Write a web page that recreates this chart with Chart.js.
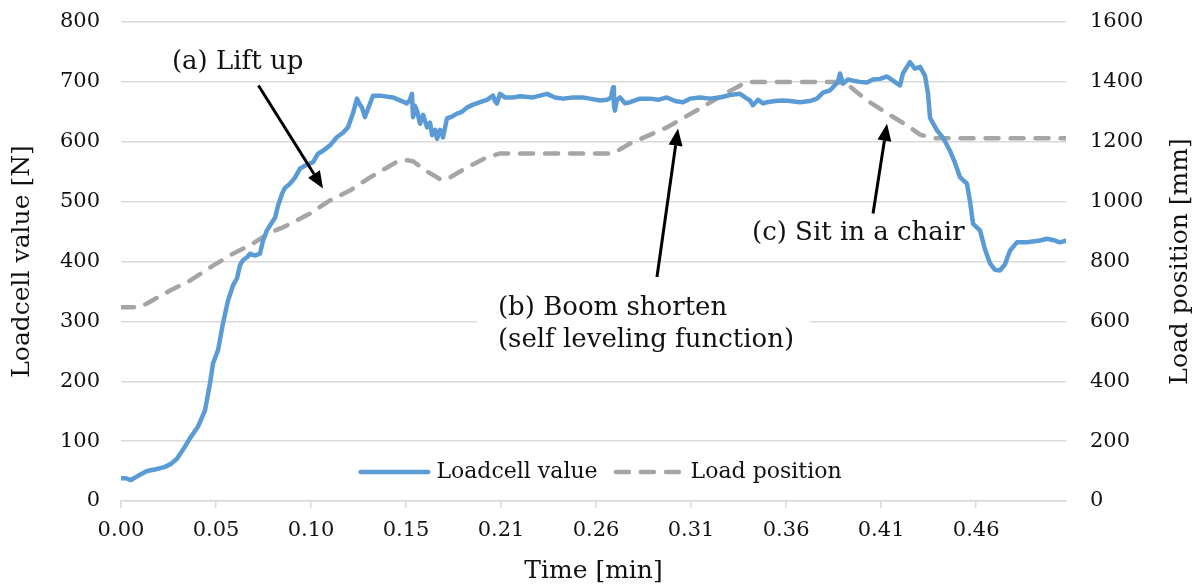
<!DOCTYPE html>
<html>
<head>
<meta charset="utf-8">
<script src="https://cdn.jsdelivr.net/npm/chart.js@4.4.1/dist/chart.umd.min.js"></script>
<style>
  html, body { margin: 0; padding: 0; background: #ffffff; }
  #wrap { width: 1200px; height: 585px; }
</style>
</head>
<body>
<div id="wrap"><canvas id="chart" width="1200" height="585"></canvas></div>
<script>
// Time axis [min]: tick positions and their printed labels
const tickTimes  = [0, 0.0515, 0.1030, 0.1545, 0.2060, 0.2575, 0.3090, 0.3605, 0.4120, 0.4635];
const tickLabels = ['0.00', '0.05', '0.10', '0.15', '0.21', '0.26', '0.31', '0.36', '0.41', '0.46'];
const timeMax = 0.5122;

// Loadcell value [N] against time [min]
const loadTime = [
  0, 0.0027, 0.0054, 0.0092, 0.0141, 0.0190, 0.0238, 0.0271, 0.0304, 0.0341,
  0.0374, 0.0417, 0.0455, 0.0482, 0.0499, 0.0526, 0.0553, 0.0580, 0.0607, 0.0629,
  0.0645, 0.0661, 0.0683, 0.0699, 0.0726, 0.0753, 0.0770, 0.0791, 0.0818, 0.0835,
  0.0851, 0.0873, 0.0889, 0.0916, 0.0943, 0.0970, 0.0997, 0.1041, 0.1068, 0.1095,
  0.1133, 0.1171, 0.1203, 0.1230, 0.1257, 0.1279, 0.1295, 0.1306, 0.1322, 0.1339,
  0.1366, 0.1404, 0.1474, 0.1512, 0.1550, 0.1566, 0.1577, 0.1583, 0.1593, 0.1604,
  0.1621, 0.1637, 0.1659, 0.1675, 0.1686, 0.1702, 0.1713, 0.1729, 0.1740, 0.1745,
  0.1767, 0.1794, 0.1821, 0.1848, 0.1875, 0.1908, 0.1946, 0.1984, 0.2016, 0.2027,
  0.2038, 0.2054, 0.2081, 0.2125, 0.2163, 0.2233, 0.2271, 0.2309, 0.2352, 0.2396,
  0.2450, 0.2504, 0.2542, 0.2596, 0.2634, 0.2656, 0.2667, 0.2672, 0.2677, 0.2688,
  0.2705, 0.2732, 0.2759, 0.2813, 0.2867, 0.2911, 0.2959, 0.3003, 0.3046, 0.3084,
  0.3138, 0.3192, 0.3247, 0.3301, 0.3355, 0.3393, 0.3409, 0.3425, 0.3453, 0.3480,
  0.3501, 0.3545, 0.3588, 0.3626, 0.3680, 0.3734, 0.3772, 0.3805, 0.3843, 0.3859,
  0.3886, 0.3897, 0.3913, 0.3940, 0.3967, 0.4005, 0.4043, 0.4076, 0.4114, 0.4152,
  0.4184, 0.4222, 0.4238, 0.4260, 0.4276, 0.4303, 0.4331, 0.4358, 0.4374, 0.4385,
  0.4423, 0.4455, 0.4493, 0.4520, 0.4547, 0.4585, 0.4602, 0.4618, 0.4656, 0.4683,
  0.4710, 0.4737, 0.4764, 0.4791, 0.4818, 0.4856, 0.4911, 0.4981, 0.5019, 0.5051,
  0.5089, 0.5122
];
const loadcellValue = [
  38, 38, 35, 42, 50, 53, 57, 62, 71, 88,
  105, 124, 151, 196, 230, 252, 297, 335, 360, 372,
  394, 402, 407, 413, 410, 413, 435, 452, 465, 473,
  493, 513, 523, 530, 540, 555, 560, 566, 580, 585,
  594, 608, 615, 624, 647, 672, 662, 657, 641, 655,
  677, 677, 674, 669, 664, 670, 680, 641, 660, 652,
  630, 645, 624, 632, 611, 620, 605, 620, 615, 607,
  639, 642, 647, 650, 657, 662, 666, 670, 677, 668,
  664, 680, 674, 674, 676, 674, 677, 680, 674, 672,
  674, 674, 672, 669, 670, 674, 691, 660, 652, 670,
  674, 664, 666, 672, 672, 670, 674, 668, 666, 672,
  674, 672, 674, 678, 680, 672, 669, 661, 670, 664,
  666, 668, 669, 668, 666, 668, 672, 682, 686, 691,
  700, 714, 697, 704, 702, 700, 699, 704, 705, 709,
  702, 694, 714, 725, 733, 722, 725, 710, 680, 640,
  619, 607, 585, 565, 541, 530, 500, 463, 452, 420,
  397, 386, 385, 395, 418, 432, 432, 435, 438, 436,
  432, 435
];

// Load position [mm] against time [min]
const positionTime = [
  0, 0.0103, 0.0141, 0.0266, 0.0374, 0.0499, 0.0607, 0.0699, 0.0808, 0.0878,
  0.1024, 0.1133, 0.1241, 0.1350, 0.1431, 0.1501, 0.1534, 0.1583, 0.1648, 0.1729,
  0.1767, 0.1875, 0.1984, 0.2054, 0.2667, 0.2759, 0.2959, 0.3138, 0.3285, 0.3393,
  0.3886, 0.3951, 0.4043, 0.4152, 0.4260, 0.4331, 0.4396, 0.5122
];
const positionValue = [
  647, 647, 660, 703, 736, 786, 826, 854, 897, 914,
  960, 1004, 1037, 1081, 1110, 1135, 1140, 1135, 1105, 1075,
  1075, 1114, 1148, 1161, 1161, 1194, 1248, 1311, 1365, 1400,
  1400, 1385, 1338, 1295, 1255, 1224, 1212, 1212
];

// Callouts: text lines, anchor (time, N) of the first line's left edge, arrow tail and tip in (time, N)
const noteText  = [['(a) Lift up'], ['(b) Boom shorten', '(self leveling function)'], ['(c) Sit in a chair']];
const noteAt    = [[0.0276, 733], [0.2043, 322], [0.3420, 447]];
const arrowTail = [[0.0745, 694], [0.2905, 374], [0.4076, 480]];
const arrowTip  = [[0.1095, 522], [0.3019, 622], [0.4152, 630]];
// White panel behind callout (b): time from/to, N from/to
const panelB = [0.1930, 0.3734, 230, 360];

const FONT = 'DejaVu Serif';
const INK = '#111111';
const GRID = '#d9d9d9';
const BLUE = '#5b9bd5';
const GREY = '#a5a5a5';

function drawArrow(ctx, x0, y0, x1, y1) {
  const ang = Math.atan2(y1 - y0, x1 - x0);
  const headLen = 17, headHalf = 7;
  const bx = x1 - headLen * Math.cos(ang), by = y1 - headLen * Math.sin(ang);
  ctx.beginPath();
  ctx.moveTo(x0, y0);
  ctx.lineTo(bx, by);
  ctx.lineWidth = 3;
  ctx.strokeStyle = '#000';
  ctx.lineCap = 'butt';
  ctx.stroke();
  ctx.beginPath();
  ctx.moveTo(x1, y1);
  ctx.lineTo(bx + headHalf * Math.sin(ang), by - headHalf * Math.cos(ang));
  ctx.lineTo(bx - headHalf * Math.sin(ang), by + headHalf * Math.cos(ang));
  ctx.closePath();
  ctx.fillStyle = '#000';
  ctx.fill();
}

const calloutPlugin = {
  id: 'callouts',
  beforeDatasetsDraw(chart) {
    const { ctx, scales: { x, y } } = chart;
    const px0 = x.getPixelForValue(panelB[0]), px1 = x.getPixelForValue(panelB[1]);
    const py0 = y.getPixelForValue(panelB[3]), py1 = y.getPixelForValue(panelB[2]);
    ctx.save();
    ctx.fillStyle = '#ffffff';
    ctx.fillRect(px0, py0, px1 - px0, py1 - py0);
    ctx.restore();
  },
  afterDatasetsDraw(chart) {
    const { ctx, scales: { x, y } } = chart;
    ctx.save();
    // callout texts
    ctx.font = '26px "' + FONT + '"';
    ctx.fillStyle = INK;
    ctx.textAlign = 'left';
    ctx.textBaseline = 'middle';
    noteText.forEach((lines, i) => {
      const lx = x.getPixelForValue(noteAt[i][0]);
      const ly = y.getPixelForValue(noteAt[i][1]);
      lines.forEach((s, j) => ctx.fillText(s, lx, ly + j * 32));
    });
    // callout arrows
    arrowTail.forEach((a, i) => {
      drawArrow(ctx,
        x.getPixelForValue(a[0]), y.getPixelForValue(a[1]),
        x.getPixelForValue(arrowTip[i][0]), y.getPixelForValue(arrowTip[i][1]));
    });

    // legend inside the plot, centred near the bottom
    const ds = chart.data.datasets;
    ctx.font = '22px "' + FONT + '"';
    const w0 = ctx.measureText(ds[0].label).width;
    const w1 = ctx.measureText(ds[1].label).width;
    const total = 72 + 6 + w0 + 16 + 69 + 8 + w1;
    let lx = chart.width / 2 - total / 2;
    const ly = chart.chartArea.bottom - 29;
    ctx.lineCap = 'round';
    ctx.lineWidth = 4.5;
    ctx.strokeStyle = ds[0].borderColor;
    ctx.setLineDash([]);
    ctx.beginPath(); ctx.moveTo(lx + 2.25, ly); ctx.lineTo(lx + 72 - 2.25, ly); ctx.stroke();
    lx += 72 + 6;
    ctx.fillStyle = INK;
    ctx.textBaseline = 'middle';
    ctx.fillText(ds[0].label, lx, ly);
    lx += w0 + 16;
    ctx.strokeStyle = ds[1].borderColor;
    ctx.setLineDash(ds[1].borderDash);
    ctx.beginPath(); ctx.moveTo(lx + 2.25, ly); ctx.lineTo(lx + 69 - 2.25, ly); ctx.stroke();
    ctx.setLineDash([]);
    lx += 69 + 8;
    ctx.fillText(ds[1].label, lx, ly);

    // secondary axis title, reading upward
    const ca = chart.chartArea;
    ctx.font = '25px "' + FONT + '"';
    ctx.translate(chart.width - 20, (ca.top + ca.bottom) / 2);
    ctx.rotate(-Math.PI / 2);
    ctx.textAlign = 'center';
    ctx.fillText('Load position [mm]', 0, 0);
    ctx.restore();
  }
};

const tickFont = { family: FONT, size: 21 };

new Chart(document.getElementById('chart'), {
  type: 'line',
  data: {
    datasets: [
      {
        label: 'Loadcell value',
        data: loadTime.map((t, i) => ({ x: t, y: loadcellValue[i] })),
        yAxisID: 'y',
        borderColor: BLUE,
        borderWidth: 4.5,
        pointRadius: 0,
        tension: 0,
        borderJoinStyle: 'round',
        borderCapStyle: 'round',
        order: 0
      },
      {
        label: 'Load position',
        data: positionTime.map((t, i) => ({ x: t, y: positionValue[i] })),
        yAxisID: 'y1',
        borderColor: GREY,
        borderWidth: 4.5,
        borderDash: [13, 12],
        borderCapStyle: 'round',
        borderJoinStyle: 'round',
        pointRadius: 0,
        tension: 0,
        order: 1
      }
    ]
  },
  options: {
    responsive: false,
    animation: false,
    devicePixelRatio: 1,
    layout: { padding: { top: 22, left: 0, right: 0, bottom: 0 } },
    plugins: { legend: { display: false }, tooltip: { enabled: false } },
    scales: {
      x: {
        type: 'linear',
        min: 0,
        max: timeMax,
        afterBuildTicks: (s) => { s.ticks = tickTimes.map(v => ({ value: v })); },
        afterFit: (s) => { s.height = 84; },
        ticks: {
          autoSkip: false,
          maxRotation: 0,
          padding: 10,
          color: INK,
          font: tickFont,
          callback: (v, i) => tickLabels[i]
        },
        grid: { drawOnChartArea: false, drawTicks: true, tickLength: 7, color: GRID, lineWidth: 1.5 },
        border: { display: true, color: GRID, width: 1.5 },
        title: {
          display: true,
          text: 'Time [min]',
          color: INK,
          font: { family: FONT, size: 25, lineHeight: 1 },
          padding: { top: 0, bottom: 1 }
        }
      },
      y: {
        position: 'left',
        min: 0,
        max: 800,
        afterFit: (s) => { s.width = 121; },
        ticks: { stepSize: 100, padding: 0, color: INK, font: tickFont, callback: (v) => String(v) },
        grid: { color: GRID, lineWidth: 1.5, drawTicks: true, tickLength: 21, tickColor: 'rgba(0,0,0,0)' },
        border: { display: false },
        title: {
          display: true,
          text: 'Loadcell value [N]',
          color: INK,
          font: { family: FONT, size: 25, lineHeight: 1 },
          padding: { top: 9.5, bottom: 0 }
        }
      },
      y1: {
        position: 'right',
        min: 0,
        max: 1600,
        afterFit: (s) => { s.width = 134; },
        ticks: { stepSize: 200, padding: 0, color: INK, font: tickFont, callback: (v) => String(v) },
        grid: { drawOnChartArea: false, drawTicks: true, tickLength: 24, tickColor: 'rgba(0,0,0,0)' },
        border: { display: false }
      }
    }
  },
  plugins: [calloutPlugin]
});
</script>
</body>
</html>
